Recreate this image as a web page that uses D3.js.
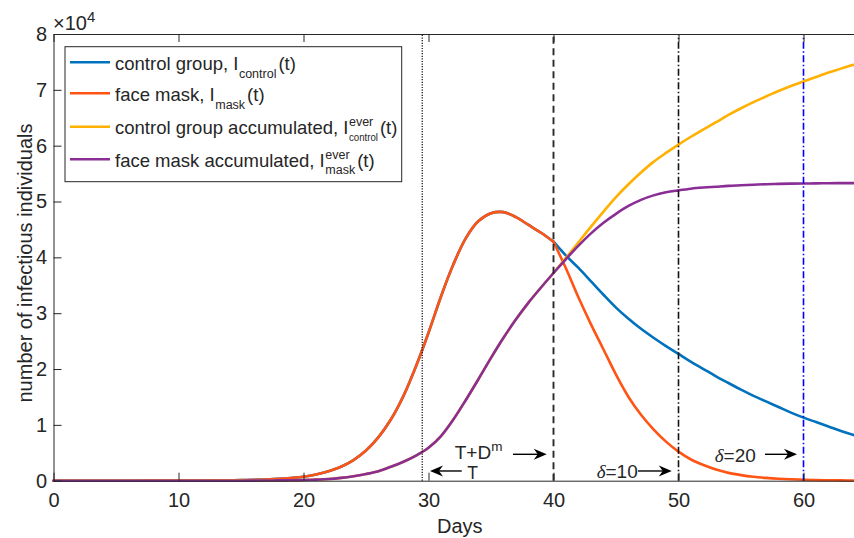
<!DOCTYPE html>
<html><head><meta charset="utf-8">
<script src="https://cdn.jsdelivr.net/npm/d3@7"></script>
<style>
body{margin:0;background:#fff}
svg text{font-family:"Liberation Sans",Arial,Helvetica,sans-serif;fill:#262626}
</style>
</head><body>
<svg id="chart" width="854" height="538"></svg>
<script>
// ---------------- DATA (values in units of 10^4 individuals) ----------------
const days = [0,1,2,3,4,5,6,7,8,9,10,11,12,13,14,15,16,17,18,19,20,21,22,23,24,25,26,27,28,29,30,31,32,33,34,35,36,37,38,39,40,41,42,43,44,45,46,47,48,49,50,51,52,53,54,55,56,57,58,59,60,61,62,63,64,65];
const maskI = [0,0,0,0,0,0,0,0,0.001,0.001,0.002,0.002,0.003,0.005,0.007,0.01,0.015,0.022,0.032,0.048,0.07,0.11,0.17,0.25,0.37,0.54,0.78,1.10,1.52,2.05,2.65,3.30,3.88,4.35,4.65,4.79,4.81,4.72,4.58,4.44,4.28,3.80,3.28,2.80,2.35,1.90,1.50,1.18,0.92,0.70,0.52,0.38,0.28,0.20,0.14,0.10,0.07,0.05,0.035,0.025,0.018,0.012,0.008,0.006,0.004,0.003];
const controlI = [0,0,0,0,0,0,0,0,0.001,0.001,0.002,0.002,0.003,0.005,0.007,0.01,0.015,0.022,0.032,0.048,0.07,0.11,0.17,0.25,0.37,0.54,0.78,1.10,1.52,2.05,2.65,3.30,3.88,4.35,4.65,4.79,4.81,4.72,4.58,4.44,4.28,4.03,3.81,3.57,3.33,3.10,2.90,2.72,2.56,2.41,2.27,2.13,2.00,1.87,1.75,1.63,1.52,1.42,1.32,1.22,1.13,1.05,0.97,0.89,0.82,0.76];
const maskCum = [0,0,0,0,0,0,0,0,0,0,0,0,0,0,0,0,0.002,0.003,0.005,0.008,0.012,0.02,0.03,0.05,0.08,0.12,0.17,0.25,0.34,0.45,0.59,0.80,1.10,1.45,1.82,2.20,2.56,2.89,3.19,3.46,3.72,3.97,4.21,4.43,4.62,4.78,4.92,5.03,5.11,5.165,5.20,5.23,5.25,5.265,5.28,5.29,5.30,5.31,5.315,5.32,5.322,5.325,5.327,5.33,5.33,5.33];
const controlCum = [0,0,0,0,0,0,0,0,0,0,0,0,0,0,0,0,0.002,0.003,0.005,0.008,0.012,0.02,0.03,0.05,0.08,0.12,0.17,0.25,0.34,0.45,0.59,0.80,1.10,1.45,1.82,2.20,2.56,2.89,3.19,3.46,3.72,3.99,4.27,4.55,4.82,5.08,5.31,5.52,5.71,5.87,6.02,6.16,6.29,6.42,6.55,6.67,6.78,6.88,6.98,7.07,7.15,7.23,7.31,7.38,7.45,7.51];
const xTicks = [0,10,20,30,40,50,60];
const yTicks = [0,1,2,3,4,5,6,7,8];
const markerDays = [29.5, 40, 50, 60];
const seriesNames = ["control group, I", "face mask, I", "control group accumulated, I", "face mask accumulated, I"];
const seriesSup = ["", "", "ever", "ever"];
const seriesSub = ["control", "mask", "control", "mask"];

// ---------------- LAYOUT / STYLE ----------------
const FONT = '"Liberation Sans",Arial,Helvetica,sans-serif';
const plotLeft = 53.5, plotTop = 34, plotBottom = 480.7, pxPerDay = 12.5;
const svg = d3.select('#chart');
const x = d3.scaleLinear().domain([0,65]).range([plotLeft, plotLeft + 65*pxPerDay]);
const y = d3.scaleLinear().domain([0,8]).range([plotBottom, plotTop]);
const colors = ['#0072BD', '#FF5414', '#FFB000', '#8A2D95'];
const series = [controlI, maskI, controlCum, maskCum];
const breakDay = 40; // intervention day: prevalence curves have a corner here

// curves
const line = d3.line().x(d=>x(d[0])).y(d=>y(d[1])).curve(d3.curveCatmullRom.alpha(0.5));
const gLines = svg.append('g');
series.forEach((s,k)=>{
  const pts = days.map((d,i)=>[d, s[i]]);
  const segs = k < 2 ? [pts.filter(p=>p[0] <= breakDay), pts.filter(p=>p[0] >= breakDay)] : [pts];
  const color = colors[k];
  segs.forEach(seg=>{
    gLines.append('path').datum(seg).attr('d', line)
      .attr('fill','none').attr('stroke', color).attr('stroke-width', 2.6)
      .attr('stroke-linejoin','round').attr('stroke-linecap','round');
  });
});

// vertical markers
const markerStyle = [
  {c:'#1a1a1a', w:1.3, dash:'1.2,1.4'},
  {c:'#2a2a2a', w:1.9, dash:'7,4.5'},
  {c:'#111', w:1.6, dash:'7,2.5,1.5,2.5'},
  {c:'#0000FF', w:1.6, dash:'7,2.5,1.5,2.5'}
];
svg.append('g').selectAll('line').data(markerDays).join('line')
  .attr('x1', d=>x(d)).attr('x2', d=>x(d)).attr('y1', y(0)).attr('y2', y(8))
  .attr('stroke', (d,i)=>markerStyle[i].c).attr('stroke-width',(d,i)=>markerStyle[i].w)
  .attr('stroke-dasharray',(d,i)=>markerStyle[i].dash);

// axes
function styleAxis(g){
  g.attr('font-family', FONT).attr('font-size', 20);
  g.selectAll('path,line').attr('stroke','#262626').attr('stroke-width',1);
  g.selectAll('text').attr('fill','#262626');
}
svg.append('g').attr('transform',`translate(0,${plotBottom})`)
  .call(d3.axisBottom(x).tickValues(xTicks).tickSize(-8).tickSizeOuter(0).tickPadding(12.5))
  .call(styleAxis);
svg.append('g').attr('transform',`translate(0,${plotTop})`)
  .call(d3.axisTop(x).tickValues(xTicks).tickSize(-8).tickSizeOuter(0).tickFormat(''))
  .call(styleAxis);
svg.append('g').attr('transform',`translate(${plotLeft},0)`)
  .call(d3.axisLeft(y).tickValues(yTicks).tickSize(-8).tickSizeOuter(0).tickPadding(6.5))
  .call(styleAxis);

// exponent label
const ex = svg.append('text').attr('x', 53).attr('y', 29.5).attr('font-size', 20);
ex.append('tspan').text('×10');
ex.append('tspan').attr('dy', -8).attr('font-size', 15).text('4');

// axis labels
svg.append('text').attr('x', (x(0)+x(65))/2).attr('y', 533).attr('text-anchor','middle')
  .attr('font-size', 20).text('Days');
svg.append('text').attr('transform','translate(32,263) rotate(-90)').attr('text-anchor','middle')
  .attr('font-size', 20).text('number of infectious individuals');

// legend
const lg = svg.append('g');
lg.append('rect').attr('x',65).attr('y',46.7).attr('width',336.7).attr('height',135)
  .attr('fill','#fff').attr('stroke','#262626').attr('stroke-width',1);
const rowY = [62.3, 93.3, 126.7, 159.3];
seriesNames.forEach((name,k)=>{
  const ly = rowY[k];
  lg.append('line').attr('x1',70).attr('x2',110).attr('y1',ly).attr('y2',ly)
    .attr('stroke',colors[k]).attr('stroke-width',2.6);
  const base = ly + 7.7;
  const t = lg.append('text').attr('x',115).attr('y',base).attr('font-size',18.5).text(name);
  const xs = 115 + t.node().getComputedTextLength() + 0.5;
  let w = 0;
  if (seriesSup[k]) {
    const s = lg.append('text').attr('x',xs).attr('y',base-8.5).attr('font-size',12.5).text(seriesSup[k]);
    w = Math.max(w, s.node().getComputedTextLength());
  }
  const sb = lg.append('text').attr('x',xs).attr('y',base + (seriesSup[k]?6.5:7.5))
    .attr('font-size', k===2 ? 11 : 12.5).text(seriesSub[k]);
  let sw = sb.node().getComputedTextLength();
  if (k===2) { sw = 29; sb.attr('textLength', sw).attr('lengthAdjust','spacingAndGlyphs'); }
  w = Math.max(w, sw);
  lg.append('text').attr('x', xs + w + 2).attr('y', base).attr('font-size',18.5).text('(t)');
});

// annotations (positions in data units)
const ag = svg.append('g');
function arrow(d1, d2, v){
  const x1 = x(d1), x2 = x(d2), yy = y(v);
  const dir = Math.sign(x2 - x1);
  const L = 13, H = 5.5, N = 4;
  ag.append('line').attr('x1',x1).attr('x2',x2 - dir*N).attr('y1',yy).attr('y2',yy)
    .attr('stroke','#000').attr('stroke-width',1.4);
  ag.append('path').attr('d',`M${x2},${yy} L${x2-dir*L},${yy-H} L${x2-dir*(L-N)},${yy} L${x2-dir*L},${yy+H} Z`)
    .attr('fill','#000');
}
function label(d, v, parts, size){
  const t = ag.append('text').attr('x', x(d)).attr('y', y(v)).attr('font-size', size || 19);
  parts.forEach(p=>{
    const s = t.append('tspan').text(p.t);
    if (p.delta) s.attr('font-family','"Liberation Serif","DejaVu Serif",serif').attr('font-style','italic');
    if (p.sup) s.attr('font-size', 13.5).attr('dy', -8.5);
  });
  return t;
}
label(32.1, 0.38, [{t:'T+D'},{t:'m',sup:true}]);
arrow(36.76, 39.46, 0.473);
label(33.1, 0.022, [{t:'T'}], 17.5);
arrow(32.66, 30.12, 0.174);
label(43.45, 0.043, [{t:'δ',delta:true},{t:'=10'}]);
arrow(46.76, 49.46, 0.174);
label(52.9, 0.34, [{t:'δ',delta:true},{t:'=20'}]);
arrow(56.92, 59.48, 0.473);
</script>
</body></html>
